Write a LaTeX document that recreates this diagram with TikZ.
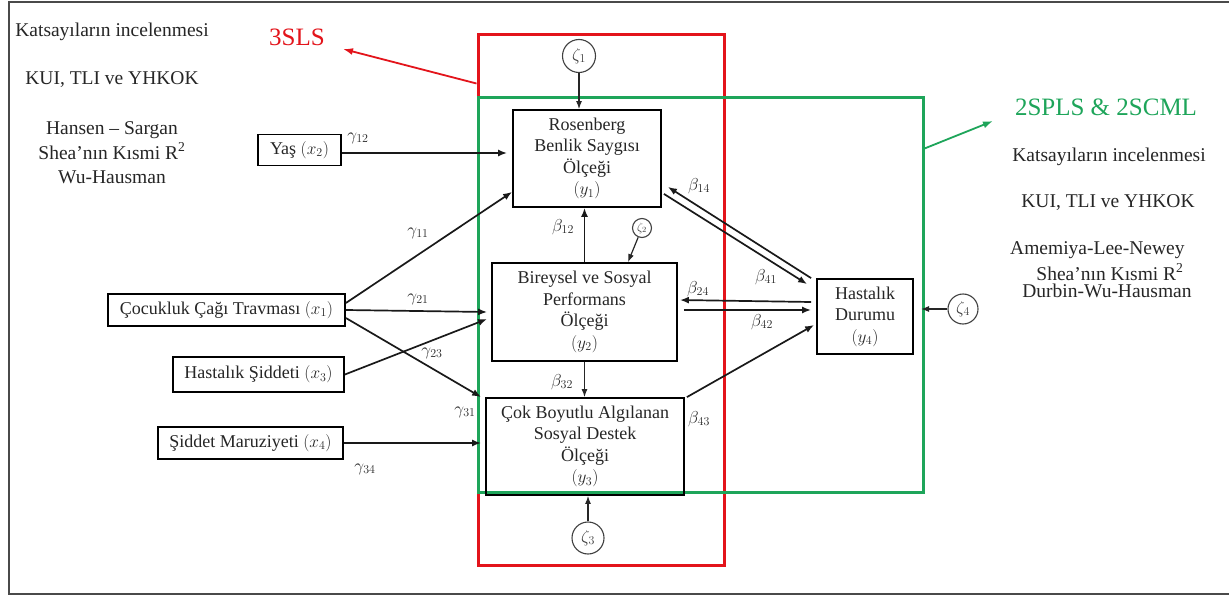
\documentclass[tikz,border=0pt]{standalone}
\usepackage{fontspec}
\setmainfont{Liberation Serif}
\usetikzlibrary{arrows.meta,calc}
\definecolor{boxred}{HTML}{E3141B}
\definecolor{boxgreen}{HTML}{1EA55A}
\definecolor{frameg}{HTML}{4A4A4A}
\tikzset{
  vbox/.style={draw, line width=1.8pt, align=center, inner sep=0pt, text=black!85,
    font=\fontsize{18}{21.5}\selectfont},
  zcirc/.style={draw, circle, line width=1.1pt, black!75, inner sep=0pt,
    font=\fontsize{17}{17}\selectfont},
  conn/.style={line width=1.7pt, black!90, -{Latex[length=9pt,width=7pt]}},
  thinconn/.style={line width=1.2pt, black!85, -{Latex[length=8pt,width=6pt]}},
  coef/.style={font=\fontsize{17}{17}\selectfont, inner sep=0pt, text=black!85},
  sidetext/.style={align=center, font=\fontsize{19.5}{24.5}\selectfont, inner sep=0pt, text=black!85},
  methodbox/.style={draw, line width=3pt, inner sep=0pt, fill=none},
}
\begin{document}
\begin{tikzpicture}[x=1pt,y=-1pt]
\useasboundingbox (0,0) rectangle (1229,599);
\fill[white] (0,0) rectangle (1229,599);
% outer frame (right side cut off)
\draw[line width=2pt, frameg] (1229,2) -- (9,2) -- (9,594) -- (1229,594);

% method boxes
\node[methodbox, boxred, minimum width=246pt, minimum height=530pt] (redbox) at (601,300) {};
\node[methodbox, boxgreen, minimum width=445pt, minimum height=394pt] (greenbox) at (700.5,295) {};

% left side texts
\node[sidetext] (lt1) at (112,32) {Katsayıların incelenmesi};
\node[sidetext] (lt2) at (112,80) {KUI, TLI ve YHKOK};
\node[sidetext] (lt3) at (112,153) {Hansen – Sargan\\Shea’nın Kısmi R\textsuperscript{2}\\Wu-Hausman};
\node[font=\fontsize{25}{25}\selectfont, text=boxred, inner sep=0pt] (sls) at (297,37) {3SLS};

% right side texts
\node[font=\fontsize{25}{25}\selectfont, text=boxgreen, inner sep=0pt] (spls) at (1106,107) {2SPLS \& 2SCML};
\node[sidetext] (rt1) at (1109,157) {Katsayıların incelenmesi};
\node[sidetext] (rt2) at (1108,203) {KUI, TLI ve YHKOK};
\node[sidetext, anchor=west] (rt3) at (1010,250) {Amemiya-Lee-Newey};
\node[sidetext] (rt4) at (1110,272) {Shea’nın Kısmi R\textsuperscript{2}};
\node[sidetext] (rt5) at (1107,291) {Durbin-Wu-Hausman};

% variable boxes
\node[vbox, minimum width=148pt, minimum height=97pt] (rosen) at (587,158.5) {Rosenberg\\Benlik Saygısı\\Ölçeği\\$(y_1)$};
\node[vbox, minimum width=185pt, minimum height=98pt] (bire) at (584.5,312) {Bireysel ve Sosyal\\Performans\\Ölçeği\\$(y_2)$};
\node[vbox, minimum width=198pt, minimum height=97pt] (cok) at (585,446.5) {Çok Boyutlu Algılanan\\Sosyal Destek\\Ölçeği\\$(y_3)$};
\node[vbox, minimum width=96pt, minimum height=75pt] (hd) at (865,316.5) {Hastalık\\Durumu\\$(y_4)$};
\node[vbox, minimum width=83pt, minimum height=31pt] (yas) at (299.5,150) {Yaş $(x_2)$};
\node[vbox, minimum width=237pt, minimum height=32pt] (cocuk) at (226.5,310) {Çocukluk Çağı Travması $(x_1)$};
\node[vbox, minimum width=171pt, minimum height=35pt] (hast) at (258.5,374.5) {Hastalık Şiddeti $(x_3)$};
\node[vbox, minimum width=185pt, minimum height=32pt] (sidd) at (250.5,443) {Şiddet Maruziyeti $(x_4)$};

% error circles
\node[zcirc, minimum size=33pt] (z1) at (579,56) {$\zeta_1$};
\node[zcirc, minimum size=19pt, font=\fontsize{12}{12}\selectfont] (z2) at (642,228) {$\zeta_2$};
\node[zcirc, minimum size=32pt] (z3) at (588,538) {$\zeta_3$};
\node[zcirc, minimum size=30pt] (z4) at (963,309) {$\zeta_4$};

% free ends
\coordinate (redtip) at (343,49);
\coordinate (greentip) at (993,121);
\coordinate (z4tip) at (921,309);

% method arrows
\draw[line width=1.8pt, boxred, -{Latex[length=10pt,width=7pt]}] ([yshift=-50pt]redbox.north west) -- (redtip);
\draw[line width=1.8pt, boxgreen, -{Latex[length=10pt,width=7pt]}] ([yshift=-52pt]greenbox.north east) -- (greentip);

% exogenous paths
\draw[conn] (yas.east |- 0,153) -- ([xshift=-5pt]rosen.west |- 0,153);
\draw[conn] ([yshift=7pt]cocuk.east) -- ([yshift=16pt]rosen.south west);
\draw[conn] (cocuk.east) -- ([xshift=-4pt]bire.west);
\draw[conn] (hast.east) -- ([xshift=-4pt,yshift=-7pt]bire.west);
\draw[conn] ([yshift=-8pt]cocuk.east) -- ([xshift=-4pt]cok.north west);
\draw[conn] (sidd.east) -- ([xshift=-4pt]cok.west |- sidd.east);

% endogenous paths
\draw[conn] (bire.north) -- (bire.north |- rosen.south);
\draw[thinconn] (bire.south) -- (bire.south |- cok.north);
\draw[conn] ([xshift=-5pt]hd.north west) -- ([xshift=6pt,yshift=21pt]rosen.south east);
\draw[conn] ([xshift=2pt,yshift=14pt]rosen.south east) -- ([xshift=-9pt,yshift=-6pt]hd.north west);
\draw[conn] ([xshift=-5pt,yshift=14.5pt]hd.west) -- ([xshift=2pt,yshift=12pt]bire.east);
\draw[conn] ([xshift=6pt,yshift=2pt]bire.east) -- ([xshift=-5pt,yshift=6.5pt]hd.west);
\draw[conn] ([xshift=2pt]cok.north east) -- ([xshift=-2pt,yshift=-8.5pt]hd.west);

% error paths
\draw[thinconn] (z1) -- (z1 |- rosen.north);
\draw[thinconn] (z2) -- ($(bire.north)+(43.5,0)$);
\draw[thinconn] (z3) -- (z3 |- cok.south);
\draw[thinconn] (z4) -- (z4tip);

% coefficient labels
\node[coef] (g12) at (358,138) {$\gamma_{12}$};
\node[coef] (g11) at (418,233) {$\gamma_{11}$};
\node[coef] (g21) at (418,299) {$\gamma_{21}$};
\node[coef] (g23) at (432,353) {$\gamma_{23}$};
\node[coef] (g31) at (465,412) {$\gamma_{31}$};
\node[coef] (g34) at (365,469) {$\gamma_{34}$};
\node[coef] (b12) at (563,227) {$\beta_{12}$};
\node[coef] (b32) at (562,382) {$\beta_{32}$};
\node[coef] (b14) at (699,186) {$\beta_{14}$};
\node[coef] (b41) at (766,277) {$\beta_{41}$};
\node[coef] (b24) at (698,289) {$\beta_{24}$};
\node[coef] (b42) at (762,322) {$\beta_{42}$};
\node[coef] (b43) at (699,419) {$\beta_{43}$};
\end{tikzpicture}
\end{document}
